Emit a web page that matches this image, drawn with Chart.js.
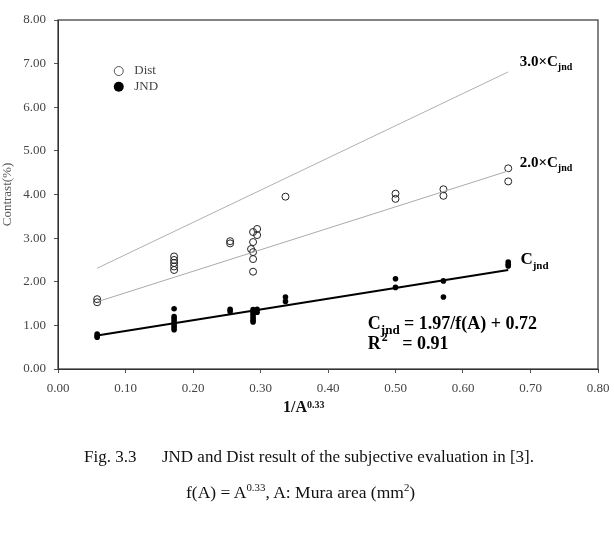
<!DOCTYPE html>
<html>
<head>
<meta charset="utf-8">
<script src="https://cdn.jsdelivr.net/npm/chart.js@4/dist/chart.umd.min.js"></script>
<style>
  body { margin: 0; background: #fff; }
  #wrap { position: relative; width: 614px; height: 538px; }
  .txt { position: absolute; font-family: "Liberation Serif", "Times New Roman", serif; color: #111; white-space: pre; }
  sup { font-size: 0.62em; }
</style>
</head>
<body>
<div id="wrap">
  <canvas id="chart" width="614" height="538"></canvas>
  <div class="txt" style="left:283px; top:398px; font-size:16px; font-weight:bold;">1/A<span style="font-size:10px; vertical-align:4px;">0.33</span></div>
  <div class="txt" style="left:84px; top:447px; font-size:17px;">Fig. 3.3      JND and Dist result of the subjective evaluation in [3].</div>
  <div class="txt" style="left:186px; top:481px; font-size:17.5px;">f(A) = A<sup>0.33</sup>, A: Mura area (mm<sup>2</sup>)</div>
</div>
<script>
// Dist (open circles)
const distX = [0.058, 0.058, 0.172, 0.172, 0.172, 0.172, 0.172, 0.255, 0.255,
    0.289, 0.295, 0.295, 0.289, 0.286, 0.289, 0.289, 0.289, 0.337, 0.5, 0.5, 0.571, 0.571, 0.667, 0.667];
const distY = [1.6, 1.53, 2.58, 2.5, 2.43, 2.35, 2.27, 2.93, 2.88,
    3.14, 3.21, 3.07, 2.91, 2.75, 2.68, 2.52, 2.23, 3.95, 4.02, 3.9, 4.12, 3.97, 4.6, 4.3];

// JND (filled circles)
const jndX = [0.058, 0.058, 0.058, 0.172, 0.172, 0.172, 0.172, 0.172, 0.172, 0.172, 0.172, 0.255, 0.255,
    0.289, 0.289, 0.289, 0.289, 0.289, 0.289, 0.289, 0.295, 0.295, 0.337, 0.337, 0.5, 0.5, 0.571, 0.571, 0.667, 0.667, 0.667];
const jndY = [0.8, 0.76, 0.73, 1.38, 1.2, 1.15, 1.1, 1.05, 1.0, 0.95, 0.9, 1.37, 1.32,
    1.36, 1.32, 1.27, 1.22, 1.17, 1.12, 1.08, 1.37, 1.3, 1.65, 1.55, 2.07, 1.87, 2.02, 1.65, 2.45, 2.4, 2.36];

// fitted lines
const lineX = [0.058, 0.667];
const cjndY = [0.77, 2.27];
const twoY = [1.54, 4.54];
const threeY = [2.31, 6.81];

const xTicks = [0, 0.1, 0.2, 0.3, 0.4, 0.5, 0.6, 0.7, 0.8];
const yTicks = [0, 1, 2, 3, 4, 5, 6, 7, 8];

const serif = "'Liberation Serif', 'Times New Roman', serif";

function pts(xs, ys) {
    return xs.map((x, i) => ({x: x, y: ys[i]}));
}

// box, legend and labels inside the plot
const extras = {
    id: "extras",
    afterDraw(chart) {
        const ctx = chart.ctx;
        const a = chart.chartArea;
        const sx = chart.scales.x, sy = chart.scales.y;
        ctx.save();
        ctx.strokeStyle = "#333";
        ctx.lineWidth = 1.2;
        ctx.strokeRect(a.left, a.top, a.right - a.left, a.bottom - a.top);

        // legend
        ctx.lineWidth = 1;
        ctx.strokeStyle = "#555";
        ctx.beginPath();
        ctx.arc(sx.getPixelForValue(0.09), sy.getPixelForValue(6.83), 4.5, 0, Math.PI * 2);
        ctx.stroke();
        ctx.fillStyle = "#000";
        ctx.beginPath();
        ctx.arc(sx.getPixelForValue(0.09), sy.getPixelForValue(6.47), 5, 0, Math.PI * 2);
        ctx.fill();
        ctx.fillStyle = "#444";
        ctx.font = "13px " + serif;
        ctx.textBaseline = "middle";
        ctx.fillText("Dist", sx.getPixelForValue(0.113), sy.getPixelForValue(6.83));
        ctx.fillText("JND", sx.getPixelForValue(0.113), sy.getPixelForValue(6.47));

        // C_jnd style labels
        function cj(prefix, xv, yv, size, sub) {
            let x = sx.getPixelForValue(xv);
            const y = sy.getPixelForValue(yv);
            ctx.fillStyle = "#000";
            ctx.font = "bold " + size + "px " + serif;
            ctx.fillText(prefix + "C", x, y);
            x += ctx.measureText(prefix + "C").width;
            ctx.font = "bold " + sub + "px " + serif;
            ctx.fillText("jnd", x, y + size * 0.35);
            return x + ctx.measureText("jnd").width;
        }
        cj("3.0\u00d7", 0.684, 7.04, 15, 10);
        cj("2.0\u00d7", 0.684, 4.72, 15, 10);
        cj("", 0.685, 2.5, 17, 11);

        // equation
        const ex = cj("", 0.459, 1.03, 18, 13);
        ctx.font = "bold 18px " + serif;
        ctx.fillText(" = 1.97/f(A) + 0.72", ex, sy.getPixelForValue(1.03));
        const rx = sx.getPixelForValue(0.459);
        const ry = sy.getPixelForValue(0.57);
        ctx.fillText("R", rx, ry);
        const rw = ctx.measureText("R").width;
        ctx.font = "bold 12px " + serif;
        ctx.fillText("2", rx + rw + 1, ry - 6);
        ctx.font = "bold 18px " + serif;
        ctx.fillText("   = 0.91", rx + rw + 8, ry);
        ctx.restore();
    }
};

new Chart(document.getElementById("chart"), {
    type: "scatter",
    data: {
        datasets: [
            {
                label: "3.0xCjnd",
                type: "line",
                data: pts(lineX, threeY),
                borderColor: "#b0b0b0",
                borderWidth: 1,
                pointRadius: 0,
            },
            {
                label: "2.0xCjnd",
                type: "line",
                data: pts(lineX, twoY),
                borderColor: "#aaa",
                borderWidth: 1,
                pointRadius: 0,
            },
            {
                label: "Cjnd",
                type: "line",
                data: pts(lineX, cjndY),
                borderColor: "#000",
                borderWidth: 2,
                pointRadius: 0,
            },
            {
                label: "Dist",
                data: pts(distX, distY),
                pointRadius: 3.5,
                pointBorderWidth: 1,
                pointBorderColor: "#222",
                pointBackgroundColor: "rgba(255,255,255,0)",
            },
            {
                label: "JND",
                data: pts(jndX, jndY),
                pointRadius: 2.8,
                pointBorderWidth: 0,
                pointBackgroundColor: "#000",
            },
        ],
    },
    options: {
        responsive: false,
        animation: false,
        layout: {padding: {top: 20, right: 16, left: 0, bottom: 0}},
        plugins: {
            legend: {display: false},
            tooltip: {enabled: false},
        },
        scales: {
            x: {
                type: "linear",
                min: 0,
                max: 0.8,
                afterBuildTicks: (s) => { s.ticks = xTicks.map((v) => ({value: v})); },
                afterFit: (s) => { s.height = 169; s.paddingRight = 0; s.paddingLeft = 0; },
                grid: {drawOnChartArea: false, tickLength: 4, color: "#555"},
                border: {color: "#333"},
                ticks: {
                    padding: 8,
                    color: "#444",
                    font: {family: serif, size: 13},
                    callback: (v) => v.toFixed(2),
                },
            },
            y: {
                min: 0,
                max: 8,
                afterBuildTicks: (s) => { s.ticks = yTicks.map((v) => ({value: v})); },
                afterFit: (s) => { s.width = 58; },
                grid: {drawOnChartArea: false, tickLength: 4, color: "#555"},
                border: {color: "#333"},
                title: {
                    display: true,
                    text: "Contrast(%)",
                    color: "#555",
                    font: {family: serif, size: 13},
                    padding: {top: 0, bottom: 0},
                },
                ticks: {
                    padding: 8,
                    color: "#444",
                    font: {family: serif, size: 13},
                    callback: (v) => v.toFixed(2),
                },
            },
        },
    },
    plugins: [extras],
});
</script>
</body>
</html>
